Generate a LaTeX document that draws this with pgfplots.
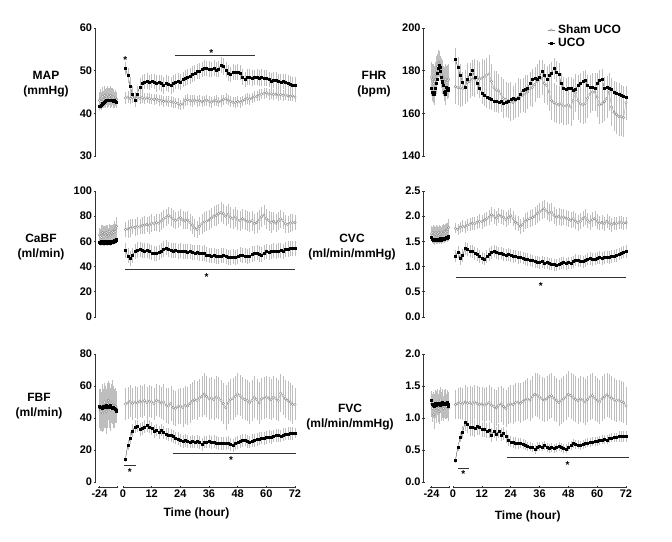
\documentclass[border=0pt]{standalone}
\usepackage{pgfplots}
\usepackage{pgfplotstable}
\pgfplotsset{compat=1.18}
\usepackage{fontspec}
\setmainfont{Liberation Sans}
\definecolor{shamc}{RGB}{140,140,140}
\definecolor{errc}{RGB}{190,190,190}
\pgfplotsset{
  base/.style={scale only axis, clip=false, anchor=south west,
    tick align=outside, major tick length=2.5pt,
    tick style={black!80, line width=0.6pt},
    ticklabel style={font=\bfseries\fontsize{11}{12}\selectfont, black, inner sep=1.5pt},
    /pgf/number format/assume math mode=true},
  bl/.style={base, width=20pt, xmin=-26, xmax=1},
  mn/.style={base, xmin=0, xmax=72},
  noarrow/.style={axis line style={-, black!80, line width=0.6pt}},
  sham/.style={draw=shamc, mark=*, mark size=1.25pt, line width=0.25pt,
    mark options={draw=shamc, fill=white, line width=0.4pt},
    error bars/y dir=both, error bars/y explicit, error bars/error mark=none,
    error bars/error bar style={errc, line width=0.35pt}},
  uco/.style={black, mark=square*, mark size=1.0pt, line width=0.25pt,
    error bars/y dir=both, error bars/y explicit, error bars/error mark=none,
    error bars/error bar style={errc, line width=0.35pt}},
}
\tikzset{sig/.style={black!80, line width=0.6pt},
  star/.style={font=\bfseries\fontsize{10}{10}\selectfont, inner sep=0pt, yshift=-2pt},
  ylab/.style={font=\bfseries\fontsize{12}{15}\selectfont, align=center}}
\begin{document}
% ---------------- MAP ----------------
\pgfplotstableread{
t u ue s se
-24 41.6 0.8 43.0 2.0
-23 41.8 0.8 43.5 2.2
-22 42.0 0.9 42.8 2.1
-21 42.2 0.8 43.6 2.3
-20 42.3 0.9 44.0 2.2
-19 42.5 0.8 43.2 2.0
-18 42.6 0.9 43.8 2.3
-17 42.8 0.8 44.2 2.1
-16 42.9 0.9 43.5 2.2
-15 43.0 0.8 44.0 2.0
-14 43.1 0.9 43.6 2.3
-13 43.0 0.8 44.3 2.1
-12 43.2 0.9 43.8 2.2
-11 43.1 0.8 44.0 2.0
-10 43.0 0.9 43.5 2.3
-9 43.2 0.8 44.2 2.1
-8 43.1 0.9 43.7 2.2
-7 43.0 0.8 43.9 2.0
-6 42.8 0.9 43.4 2.1
-5 42.9 0.8 43.8 2.0
-4 43.0 0.9 43.2 1.9
-3 42.8 0.8 43.6 1.8
-2 42.7 0.9 43.0 1.7
-1 42.6 0.8 43.3 1.6
}\mapB
\pgfplotstableread{
t u ue s se
1 50.5 1.6 43.6 1.5
2 48.9 1.8 43.8 1.4
3 46.3 2.2 43.5 1.3
4 44.4 2.0 43.7 1.2
5 43.2 1.8 43.6 1.3
6 44.6 1.9 43.8 1.2
7 46.2 2.0 43.5 1.3
8 47.0 1.9 43.7 1.2
9 47.4 1.8 43.4 1.3
10 47.5 1.9 43.6 1.2
11 47.2 1.8 43.5 1.3
12 47.6 1.7 43.3 1.2
13 47.4 1.8 43.2 1.3
14 47.0 1.9 43.4 1.2
15 47.3 1.8 43.0 1.3
16 47.0 1.9 43.1 1.2
17 46.6 2.0 42.8 1.3
18 47.1 1.8 42.9 1.2
19 46.8 1.9 42.7 1.3
20 46.5 2.0 42.8 1.2
21 47.0 1.9 42.6 1.3
22 47.4 1.8 42.5 1.2
23 47.6 1.8 42.3 1.3
24 47.4 1.9 42.0 1.2
25 48.0 1.8 42.2 1.3
26 48.3 1.9 43.0 1.2
27 48.5 1.8 43.2 1.3
28 48.8 1.9 43.0 1.2
29 49.2 1.8 42.9 1.3
30 49.5 1.9 43.1 1.2
31 49.8 1.8 42.8 1.3
32 50.0 1.9 43.0 1.2
33 50.3 1.8 42.7 1.3
34 50.6 1.9 42.9 1.2
35 50.5 1.8 43.1 1.3
36 50.4 1.9 42.8 1.2
37 50.3 1.8 42.6 1.3
38 50.6 1.9 42.9 1.2
39 50.2 1.8 43.0 1.3
40 50.4 1.9 42.7 1.2
41 51.3 1.8 42.9 1.3
42 51.0 1.9 43.2 1.2
43 50.2 1.8 43.4 1.3
44 49.5 1.9 43.1 1.2
45 49.1 1.8 42.8 1.3
46 49.7 1.9 42.6 1.2
47 49.6 1.8 42.5 1.3
48 49.7 1.9 42.8 1.2
49 49.5 1.8 42.6 1.3
50 48.5 1.9 42.9 1.2
51 48.0 1.8 43.2 1.3
52 48.6 1.9 43.5 1.2
53 48.5 1.8 43.3 1.3
54 48.3 1.9 43.6 1.2
55 48.4 1.8 43.9 1.3
56 48.5 1.9 44.0 1.2
57 48.3 1.8 44.3 1.3
58 48.4 1.9 44.5 1.2
59 48.3 1.8 44.7 1.3
60 48.2 1.9 44.8 1.2
61 47.9 1.8 44.5 1.3
62 47.6 1.9 44.6 1.2
63 47.8 1.8 44.4 1.3
64 47.7 1.9 44.5 1.2
65 47.5 1.8 44.3 1.3
66 47.4 1.9 44.4 1.2
67 47.5 1.8 44.2 1.3
68 47.3 1.9 44.3 1.2
69 47.1 1.8 44.1 1.3
70 46.8 1.9 44.0 1.2
71 46.7 1.8 44.1 1.3
72 46.6 1.9 43.8 1.2
}\mapM
% ---------------- FHR ----------------
\pgfplotstableread{
t u ue s se
-24 172 4 177 7
-23 170 4 176 7
-22 169 4 175 8
-21 169 5 174 7
-20 170 4 175 7
-19 172 4 176 8
-18 174 5 178 7
-17 176 4 180 7
-16 179 4 182 6
-15 181 4 183.5 6
-14 182.5 3 184 5
-13 181.5 4 183 6
-12 180 4 181 6
-11 177 4 179 7
-10 175 5 178 7
-9 174.5 4 177 8
-8 173 4 175 7
-7 170 4 174.5 7
-6 169 5 175 8
-5 170.5 4 176 7
-4 172.5 4 175 7
-3 172 4 174.5 8
-2 171 4 175.5 7
-1 172 4 176 7
}\fhrB
\pgfplotstableread{
t u ue s se
1 185.5 5 172.5 8
2 181.5 5 172.0 8
3 178.0 5 172.0 9
4 174.5 5 171.5 8
5 172.5 5 172.5 8
6 176.0 5 174.5 9
7 178.5 5 175.0 8
8 180.2 5 176.0 8
9 177.0 5 176.5 9
10 174.0 5 177.0 8
11 172.0 5 176.0 8
12 169.6 5 176.5 9
13 168.5 5 177.0 8
14 167.5 5 178.0 8
15 167.0 5 178.5 9
16 166.5 5 175.0 8
17 165.8 5 172.0 8
18 165.5 5 171.0 9
19 165.3 5 170.5 8
20 165.5 5 169.0 8
21 165.0 5 167.0 9
22 165.3 5 166.5 8
23 165.6 5 166.0 8
24 166.5 5 165.5 9
25 167.0 5 165.0 8
26 166.8 5 166.0 8
27 167.2 5 167.5 9
28 169.0 5 168.0 8
29 171.0 5 168.5 8
30 171.5 5 169.0 9
31 172.0 5 170.0 8
32 174.0 5 171.5 8
33 176.0 5 172.0 9
34 176.5 5 173.5 8
35 176.0 5 175.0 8
36 177.0 5 176.0 9
37 180.0 5 176.5 8
38 178.0 5 174.0 9
39 176.0 5 173.0 9
40 178.0 5 170.0 9
41 179.0 5 166.0 9
42 181.0 5 165.0 9
43 179.5 5 164.5 9
44 178.5 5 164.0 9
45 174.0 5 164.5 9
46 172.0 5 163.5 9
47 171.5 5 163.5 9
48 171.8 5 164.0 9
49 172.0 5 163.0 9
50 171.0 5 166.0 9
51 171.5 5 169.5 9
52 173.0 5 166.0 9
53 174.0 5 164.5 9
54 175.0 5 164.0 9
55 175.5 5 164.5 9
56 173.0 5 167.0 9
57 172.5 5 169.0 9
58 172.5 5 170.0 9
59 172.0 5 170.0 9
60 174.0 5 167.5 9
61 175.5 5 164.0 9
62 176.0 5 164.5 9
63 172.0 5 165.5 9
64 172.3 5 167.0 9
65 172.0 5 170.0 9
66 171.5 5 163.0 9
67 170.0 5 160.5 9
68 169.5 5 159.5 9
69 169.0 5 158.5 9
70 168.5 5 158.5 9
71 168.0 5 158.0 9
72 167.5 5 165.0 8
}\fhrM
% ---------------- CaBF ----------------
\pgfplotstableread{
t u ue s se
-24 59.5 2.5 65 6
-23 59 2.5 64 6
-22 60 2.5 66 7
-21 59.5 2.5 63 6
-20 60 2.5 67 6
-19 59 2.5 65 7
-18 58.5 2.5 64 6
-17 59 2.5 66 6
-16 60 2.5 65 7
-15 59.5 2.5 67 6
-14 59 2.5 64 6
-13 60 2.5 66 7
-12 59.5 2.5 65 6
-11 60 2.5 68 6
-10 59.5 2.5 66 7
-9 59 2.5 65 6
-8 60 2.5 67 6
-7 60.5 2.5 66 7
-6 59.5 2.5 68 6
-5 60 2.5 67 6
-4 61 2.5 69 7
-3 60.5 2.5 68 6
-2 61 2.5 70 6
-1 61.5 2.5 72 7
}\cabB
\pgfplotstableread{
t u ue s se
1 53.0 6 69.5 6
2 48.5 6 70.0 7
3 46.5 6 70.5 7
4 49.0 6 71.5 6
5 52.0 6 71.0 7
6 53.2 6 72.0 7
7 53.5 6 71.5 6
8 53.0 6 72.5 7
9 52.6 6 73.0 7
10 52.8 6 73.5 6
11 52.0 6 73.0 7
12 51.0 6 74.5 7
13 50.3 6 74.0 6
14 50.5 6 75.0 7
15 51.5 6 74.5 7
16 52.5 6 76.0 7
17 54.0 6 78.0 7
18 55.0 6 79.0 7
19 53.5 6 80.5 7
20 52.8 6 79.5 7
21 52.5 6 78.0 7
22 52.8 6 76.5 7
23 52.3 6 77.5 7
24 52.5 6 79.0 7
25 52.0 6 77.0 7
26 52.2 6 76.5 7
27 51.8 6 77.0 7
28 52.0 6 75.0 7
29 51.5 6 73.0 7
30 51.0 6 70.5 7
31 51.2 6 69.5 7
32 50.8 6 72.0 7
33 50.5 6 74.0 8
34 50.8 6 75.5 8
35 49.5 6 76.0 8
36 49.0 6 77.0 8
37 48.5 6 78.5 8
38 48.8 6 80.0 8
39 48.0 6 80.5 8
40 48.3 6 82.0 8
41 48.5 6 83.0 8
42 49.0 6 82.0 8
43 48.0 6 80.0 8
44 47.5 6 81.5 8
45 47.5 6 79.0 8
46 47.8 6 78.0 8
47 47.5 6 79.5 8
48 48.0 6 77.0 8
49 49.5 6 76.5 8
50 49.0 6 78.0 8
51 48.5 6 77.0 8
52 48.0 6 76.0 8
53 48.5 6 75.5 8
54 50.0 6 76.5 8
55 50.5 6 74.0 8
56 51.0 6 75.0 8
57 50.0 6 77.0 8
58 49.5 6 79.5 8
59 51.0 6 81.0 8
60 52.0 6 78.0 8
61 51.5 6 76.5 8
62 52.0 6 75.0 8
63 52.5 6 76.0 7
64 52.0 6 74.5 7
65 52.5 6 76.0 7
66 53.0 6 78.0 7
67 52.0 6 76.5 7
68 53.5 6 74.0 7
69 54.0 6 73.5 7
70 54.5 6 74.5 7
71 54.5 6 75.0 7
72 54.5 6 75.0 6
}\cabM
% ---------------- CVC ----------------
\pgfplotstableread{
t u ue s se
-24 1.58 0.08 1.65 0.15
-23 1.55 0.08 1.62 0.16
-22 1.53 0.08 1.68 0.15
-21 1.54 0.08 1.60 0.17
-20 1.52 0.08 1.66 0.15
-19 1.55 0.08 1.63 0.16
-18 1.53 0.08 1.67 0.15
-17 1.54 0.08 1.61 0.17
-16 1.52 0.08 1.65 0.15
-15 1.55 0.08 1.62 0.16
-14 1.53 0.08 1.68 0.15
-13 1.56 0.08 1.64 0.17
-12 1.54 0.08 1.66 0.15
-11 1.53 0.08 1.63 0.16
-10 1.55 0.08 1.67 0.15
-9 1.54 0.08 1.65 0.17
-8 1.56 0.08 1.69 0.15
-7 1.55 0.08 1.66 0.16
-6 1.57 0.08 1.70 0.15
-5 1.56 0.08 1.68 0.17
-4 1.58 0.08 1.72 0.15
-3 1.57 0.08 1.70 0.16
-2 1.59 0.08 1.74 0.15
-1 1.60 0.08 1.78 0.16
}\cvcB
\pgfplotstableread{
t u ue s se
1 1.21 0.12 1.76 0.10
2 1.29 0.12 1.74 0.11
3 1.16 0.12 1.78 0.11
4 1.22 0.12 1.80 0.12
5 1.36 0.12 1.79 0.12
6 1.34 0.12 1.82 0.12
7 1.31 0.12 1.84 0.13
8 1.30 0.12 1.86 0.13
9 1.26 0.12 1.85 0.13
10 1.24 0.12 1.88 0.13
11 1.20 0.12 1.90 0.14
12 1.17 0.12 1.89 0.14
13 1.15 0.12 1.92 0.14
14 1.20 0.12 1.95 0.14
15 1.24 0.12 1.98 0.15
16 1.28 0.12 2.03 0.15
17 1.31 0.12 2.00 0.15
18 1.28 0.12 1.96 0.15
19 1.26 0.12 2.02 0.15
20 1.27 0.12 2.00 0.15
21 1.24 0.12 1.98 0.15
22 1.23 0.12 1.93 0.15
23 1.24 0.12 1.97 0.15
24 1.22 0.12 2.01 0.15
25 1.20 0.12 1.95 0.15
26 1.21 0.12 1.88 0.15
27 1.18 0.12 1.85 0.15
28 1.19 0.12 1.80 0.15
29 1.17 0.12 1.84 0.15
30 1.15 0.12 1.90 0.16
31 1.14 0.12 1.93 0.16
32 1.13 0.12 1.95 0.17
33 1.12 0.12 1.97 0.17
34 1.10 0.12 2.00 0.18
35 1.09 0.12 2.05 0.18
36 1.08 0.12 2.08 0.18
37 1.10 0.12 2.12 0.18
38 1.07 0.12 2.15 0.18
39 1.08 0.12 2.10 0.18
40 1.06 0.12 2.06 0.18
41 1.05 0.12 2.08 0.18
42 1.04 0.12 2.02 0.17
43 1.03 0.12 1.98 0.17
44 1.05 0.12 2.00 0.17
45 1.07 0.12 1.97 0.17
46 1.08 0.12 1.98 0.16
47 1.06 0.12 1.96 0.16
48 1.08 0.12 1.95 0.16
49 1.07 0.12 1.92 0.16
50 1.10 0.12 1.95 0.16
51 1.13 0.12 1.90 0.16
52 1.12 0.12 1.87 0.16
53 1.11 0.12 1.90 0.16
54 1.10 0.12 1.95 0.16
55 1.12 0.12 1.98 0.16
56 1.15 0.12 1.92 0.15
57 1.16 0.12 1.88 0.15
58 1.14 0.12 1.93 0.15
59 1.15 0.12 1.95 0.15
60 1.17 0.12 1.90 0.15
61 1.18 0.12 1.86 0.14
62 1.16 0.12 1.88 0.14
63 1.18 0.12 1.85 0.14
64 1.19 0.12 1.90 0.14
65 1.18 0.12 1.87 0.14
66 1.20 0.12 1.83 0.14
67 1.21 0.12 1.86 0.13
68 1.22 0.12 1.85 0.13
69 1.25 0.12 1.87 0.13
70 1.27 0.12 1.88 0.13
71 1.29 0.12 1.86 0.13
72 1.30 0.12 1.87 0.12
}\cvcM
% ---------------- FBF ----------------
\pgfplotstableread{
t u ue s se
-24 47.5 3 46 12
-23 47 3 45 13
-22 46.5 3 44 12
-21 47 3 47 14
-20 46 3 43 12
-19 47.5 3 45 13
-18 47 3 48 14
-17 46.5 3 50 12
-16 47 3 47 13
-15 48 3 44 14
-14 47.5 3 46 12
-13 47 3 49 13
-12 46.5 3 51 12
-11 47 3 48 14
-10 48 3 47 12
-9 47.5 3 45 13
-8 47 3 49 12
-7 46 3 50 14
-6 46.5 3 48 12
-5 47 3 47 13
-4 46 3 46 12
-3 45.5 3 48 11
-2 45 3 47 10
-1 44.5 3 46 9
}\fbfB
\pgfplotstableread{
t u ue s se
1 14.3 2 48.8 10
2 23.0 3 49.5 10
3 27.5 4 50.5 10
4 32.0 4 49.0 10
5 34.5 4 50.0 10
6 35.0 4 49.5 10
7 33.0 4 50.5 10
8 33.5 4 50.0 10
9 34.5 4 51.0 10
10 35.5 4 49.5 10
11 34.5 4 50.5 10
12 33.5 4 50.0 10
13 31.5 4 49.0 10
14 32.5 4 51.0 10
15 31.0 4 50.5 10
16 32.5 4 49.5 10
17 31.0 4 50.0 11
18 30.0 4 48.0 11
19 29.5 4 47.5 11
20 29.0 4 49.0 11
21 28.5 4 46.5 11
22 27.5 4 46.0 11
23 27.0 4 47.0 11
24 26.0 4 47.5 11
25 25.5 4 46.5 12
26 26.0 4 48.0 12
27 25.5 4 47.5 12
28 25.0 4 49.0 12
29 25.5 4 50.5 12
30 25.0 4 51.5 12
31 25.3 4 51.0 12
32 24.8 4 52.5 12
33 23.5 4 53.5 13
34 25.0 4 55.0 13
35 25.0 4 53.5 13
36 25.3 4 52.0 13
37 24.8 4 52.5 13
38 25.2 4 51.5 13
39 24.5 4 53.0 13
40 24.0 4 52.5 13
41 24.3 4 51.0 13
42 24.0 4 49.0 13
43 24.2 4 46.5 14
44 24.5 4 49.5 13
45 23.5 4 51.5 13
46 23.0 4 52.0 13
47 24.0 4 53.5 13
48 24.8 4 55.0 13
49 25.5 4 54.0 13
50 26.0 4 52.5 13
51 26.3 4 51.5 13
52 25.5 4 51.0 13
53 25.0 4 49.5 13
54 25.8 4 51.0 13
55 26.0 4 53.0 13
56 26.5 4 51.5 13
57 27.0 4 49.5 13
58 27.5 4 52.0 13
59 27.3 4 52.5 13
60 28.0 4 53.0 13
61 28.3 4 52.5 13
62 28.0 4 51.5 13
63 28.8 4 53.0 13
64 29.0 4 52.0 13
65 29.3 4 51.0 13
66 28.8 4 55.5 12
67 29.5 4 54.0 12
68 30.0 4 52.0 12
69 30.2 4 51.0 12
70 30.5 4 50.0 12
71 30.3 4 48.5 12
72 30.5 3 48.5 10
}\fbfM
% ---------------- FVC ----------------
\pgfplotstableread{
t u ue s se
-24 1.28 0.06 1.22 0.20
-23 1.22 0.06 1.15 0.22
-22 1.20 0.06 1.20 0.20
-21 1.21 0.06 1.05 0.22
-20 1.19 0.06 1.18 0.20
-19 1.23 0.06 1.22 0.22
-18 1.20 0.06 1.12 0.20
-17 1.22 0.06 1.20 0.22
-16 1.21 0.06 1.25 0.20
-15 1.24 0.06 1.15 0.22
-14 1.22 0.06 1.10 0.20
-13 1.20 0.06 1.22 0.22
-12 1.21 0.06 1.28 0.20
-11 1.23 0.06 1.18 0.22
-10 1.22 0.06 1.20 0.20
-9 1.25 0.06 1.24 0.22
-8 1.21 0.06 1.15 0.20
-7 1.23 0.06 1.22 0.22
-6 1.22 0.06 1.25 0.20
-5 1.24 0.06 1.20 0.22
-4 1.23 0.06 1.18 0.20
-3 1.25 0.06 1.22 0.22
-2 1.21 0.06 1.20 0.20
-1 1.18 0.06 1.16 0.20
}\fvcB
\pgfplotstableread{
t u ue s se
1 0.34 0.04 1.21 0.22
2 0.54 0.06 1.23 0.24
3 0.70 0.08 1.24 0.25
4 0.78 0.10 1.22 0.25
5 0.93 0.14 1.25 0.26
6 0.91 0.14 1.23 0.26
7 0.86 0.14 1.24 0.26
8 0.85 0.13 1.22 0.26
9 0.84 0.13 1.25 0.27
10 0.87 0.13 1.23 0.27
11 0.85 0.12 1.21 0.27
12 0.82 0.12 1.22 0.27
13 0.83 0.12 1.20 0.27
14 0.80 0.12 1.22 0.27
15 0.81 0.12 1.24 0.28
16 0.74 0.11 1.20 0.28
17 0.80 0.11 1.18 0.28
18 0.75 0.11 1.16 0.28
19 0.79 0.11 1.20 0.28
20 0.74 0.10 1.22 0.28
21 0.76 0.10 1.18 0.29
22 0.71 0.10 1.15 0.29
23 0.65 0.09 1.20 0.29
24 0.63 0.09 1.22 0.30
25 0.62 0.09 1.21 0.30
26 0.61 0.09 1.24 0.30
27 0.60 0.08 1.25 0.30
28 0.61 0.08 1.23 0.31
29 0.59 0.08 1.26 0.31
30 0.58 0.08 1.28 0.31
31 0.56 0.07 1.30 0.32
32 0.55 0.07 1.28 0.32
33 0.54 0.07 1.33 0.33
34 0.51 0.07 1.37 0.34
35 0.55 0.07 1.36 0.34
36 0.56 0.07 1.33 0.34
37 0.55 0.07 1.30 0.34
38 0.57 0.07 1.28 0.34
39 0.54 0.07 1.30 0.35
40 0.53 0.07 1.33 0.35
41 0.54 0.07 1.35 0.35
42 0.53 0.07 1.31 0.35
43 0.54 0.07 1.28 0.35
44 0.56 0.07 1.24 0.36
45 0.54 0.07 1.27 0.36
46 0.53 0.07 1.30 0.36
47 0.52 0.07 1.33 0.36
48 0.55 0.07 1.37 0.36
49 0.57 0.07 1.35 0.36
50 0.60 0.07 1.32 0.36
51 0.59 0.07 1.29 0.36
52 0.58 0.07 1.27 0.36
53 0.57 0.07 1.30 0.36
54 0.59 0.07 1.28 0.36
55 0.60 0.07 1.25 0.36
56 0.61 0.07 1.29 0.36
57 0.62 0.07 1.33 0.36
58 0.63 0.07 1.35 0.36
59 0.64 0.07 1.31 0.35
60 0.64 0.07 1.28 0.35
61 0.65 0.07 1.25 0.35
62 0.66 0.07 1.30 0.35
63 0.67 0.07 1.33 0.35
64 0.66 0.07 1.36 0.34
65 0.68 0.07 1.34 0.34
66 0.69 0.07 1.31 0.34
67 0.70 0.07 1.29 0.33
68 0.70 0.07 1.27 0.33
69 0.71 0.08 1.28 0.32
70 0.71 0.08 1.26 0.32
71 0.71 0.08 1.24 0.32
72 0.71 0.08 1.19 0.30
}\fvcM
\begin{tikzpicture}
\useasboundingbox (0,0) rectangle (672pt,541pt);
% ===== MAP =====
\begin{axis}[bl, at={(98pt,385pt)}, height=128pt, ymin=30, ymax=60, ytick={30,40,50,60},
  axis x line=none, axis y line=left, axis y line shift=3pt, noarrow]
\addplot[sham] table[x=t,y=s,y error=se]{\mapB};
\addplot[uco] table[x=t,y=u,y error=ue]{\mapB};
\end{axis}
\begin{axis}[mn, at={(123pt,385pt)}, width=172pt, height=128pt, ymin=30, ymax=60,
  axis x line=none, axis y line=none]
\addplot[sham] table[x=t,y=s,y error=se]{\mapM};
\addplot[uco] table[x=t,y=u,y error=ue]{\mapM};
\draw[sig] (axis cs:21.8,53.6) -- (axis cs:55.3,53.6);
\node[star] at (axis cs:37,54.6) {*};
\node[star] at (axis cs:1,53.0) {*};
\end{axis}
% ===== FHR =====
\begin{axis}[bl, at={(430pt,385pt)}, height=128pt, ymin=140, ymax=200, ytick={140,160,180,200},
  axis x line=none, axis y line=left, axis y line shift=6.5pt, noarrow]
\addplot[sham] table[x=t,y=s,y error=se]{\fhrB};
\addplot[uco] table[x=t,y=u,y error=ue]{\fhrB};
\end{axis}
\begin{axis}[mn, at={(453pt,385pt)}, width=173pt, height=128pt, ymin=140, ymax=200,
  axis x line=none, axis y line=none,
  legend style={at={(0.545,1.03)}, anchor=north west, draw=none, fill=none,
    font=\bfseries\fontsize{12}{12}\selectfont, row sep=2pt, inner sep=0pt,
    nodes={inner sep=0.5pt}, cells={anchor=west},
    /tikz/every odd column/.append style={column sep=3pt}},
  legend image code/.code={\draw[mark repeat=2, mark phase=2, #1] plot coordinates {(0pt,0pt) (3.5pt,0pt) (7pt,0pt)};}]
\addplot[sham] table[x=t,y=s,y error=se]{\fhrM};
\addlegendentry{Sham UCO}
\addplot[uco] table[x=t,y=u,y error=ue]{\fhrM};
\addlegendentry{UCO}
\end{axis}
% ===== CaBF =====
\begin{axis}[bl, at={(98pt,224pt)}, height=126pt, ymin=0, ymax=100, ytick={0,20,40,60,80,100},
  axis x line=none, axis y line=left, axis y line shift=3pt, noarrow]
\addplot[sham] table[x=t,y=s,y error=se]{\cabB};
\addplot[uco] table[x=t,y=u,y error=ue]{\cabB};
\end{axis}
\begin{axis}[mn, at={(123pt,224pt)}, width=172pt, height=126pt, ymin=0, ymax=100,
  axis x line=none, axis y line=none]
\addplot[sham] table[x=t,y=s,y error=se]{\cabM};
\addplot[uco] table[x=t,y=u,y error=ue]{\cabM};
\draw[sig] (axis cs:1,37.8) -- (axis cs:72,37.8);
\node[star] at (axis cs:35,33.3) {*};
\end{axis}
% ===== CVC =====
\begin{axis}[bl, at={(430pt,224pt)}, height=126pt, ymin=0, ymax=2.5, ytick={0,0.5,1,1.5,2,2.5},
  yticklabel style={/pgf/number format/.cd, fixed, fixed zerofill, precision=1},
  axis x line=none, axis y line=left, axis y line shift=6.5pt, noarrow]
\addplot[sham] table[x=t,y=s,y error=se]{\cvcB};
\addplot[uco] table[x=t,y=u,y error=ue]{\cvcB};
\end{axis}
\begin{axis}[mn, at={(453pt,224pt)}, width=173pt, height=126pt, ymin=0, ymax=2.5,
  axis x line=none, axis y line=none]
\addplot[sham] table[x=t,y=s,y error=se]{\cvcM};
\addplot[uco] table[x=t,y=u,y error=ue]{\cvcM};
\draw[sig] (axis cs:1.25,0.78) -- (axis cs:72,0.78);
\node[star] at (axis cs:36.6,0.65) {*};
\end{axis}
% ===== FBF =====
\begin{axis}[bl, at={(98pt,59pt)}, height=128pt, ymin=0, ymax=80, ytick={0,20,40,60,80},
  xtick={-24,0}, xticklabels={-24,{}},
  axis x line=bottom, axis x line shift=5pt, axis y line=left, axis y line shift=3pt, noarrow]
\addplot[sham] table[x=t,y=s,y error=se]{\fbfB};
\addplot[uco] table[x=t,y=u,y error=ue]{\fbfB};
\end{axis}
\begin{axis}[mn, at={(123pt,59pt)}, width=172pt, height=128pt, ymin=0, ymax=80,
  xtick={0,12,24,36,48,60,72},
  axis x line=bottom, axis x line shift=5pt, axis y line=none, noarrow]
\addplot[sham] table[x=t,y=s,y error=se]{\fbfM};
\addplot[uco] table[x=t,y=u,y error=ue]{\fbfM};
\draw[sig] (axis cs:0.4,10.5) -- (axis cs:5.4,10.5);
\node[star] at (axis cs:2.9,7.4) {*};
\draw[sig] (axis cs:20.8,17.8) -- (axis cs:72.4,17.8);
\node[star] at (axis cs:45.2,14.7) {*};
\end{axis}
% ===== FVC =====
\begin{axis}[bl, at={(430pt,59pt)}, height=128pt, ymin=0, ymax=2, ytick={0,0.5,1,1.5,2},
  yticklabel style={/pgf/number format/.cd, fixed, fixed zerofill, precision=1},
  xtick={-24,0}, xticklabels={-24,{}},
  axis x line=bottom, axis x line shift=5pt, axis y line=left, axis y line shift=6.5pt, noarrow]
\addplot[sham] table[x=t,y=s,y error=se]{\fvcB};
\addplot[uco] table[x=t,y=u,y error=ue]{\fvcB};
\end{axis}
\begin{axis}[mn, at={(453pt,59pt)}, width=173pt, height=128pt, ymin=0, ymax=2,
  xtick={0,12,24,36,48,60,72},
  axis x line=bottom, axis x line shift=5pt, axis y line=none, noarrow]
\addplot[sham] table[x=t,y=s,y error=se]{\fvcM};
\addplot[uco] table[x=t,y=u,y error=ue]{\fvcM};
\draw[sig] (axis cs:2.2,0.22) -- (axis cs:6.5,0.22);
\node[star] at (axis cs:4.3,0.15) {*};
\draw[sig] (axis cs:22.3,0.39) -- (axis cs:73.2,0.39);
\node[star] at (axis cs:47.7,0.30) {*};
\end{axis}
% ===== labels =====
\node[ylab] at (46pt,457pt) {MAP\\(mmHg)};
\node[ylab] at (374pt,457pt) {FHR\\(bpm)};
\node[ylab] at (41pt,294pt) {CaBF\\(ml/min)};
\node[ylab] at (352pt,294pt) {CVC\\(ml/min/mmHg)};
\node[ylab] at (39pt,135pt) {FBF\\(ml/min)};
\node[ylab] at (350pt,124pt) {FVC\\(ml/min/mmHg)};
\node[font=\bfseries\fontsize{12}{12}\selectfont] at (196.5pt,28pt) {Time (hour)};
\node[font=\bfseries\fontsize{12}{12}\selectfont] at (527.7pt,25pt) {Time (hour)};
\end{tikzpicture}
\end{document}
